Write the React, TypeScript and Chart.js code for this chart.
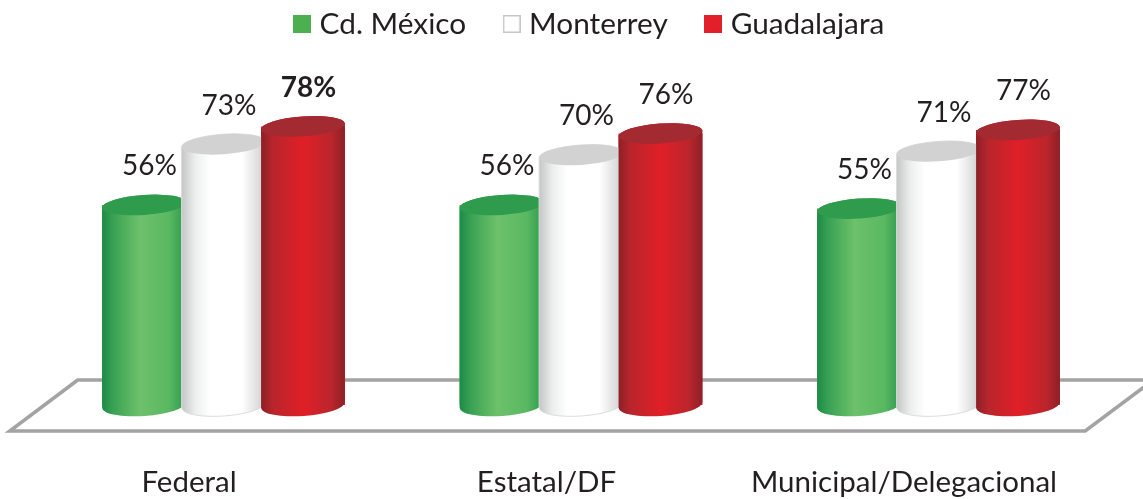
import React, { useEffect, useRef } from "react";
import { Chart, registerables } from "chart.js";

Chart.register(...registerables);

const categories = ["Federal", "Estatal/DF", "Municipal/Delegacional"];
const cdMexico = [56, 56, 55];
const monterrey = [73, 70, 71];
const guadalajara = [78, 76, 77];
const seriesNames = ["Cd. México", "Monterrey", "Guadalajara"];
const boldLabels = [[], [], [0]];

const INK = "#231f20";
const FONT = "Lato";

const swatchFill = ["#4cb04f", "#ffffff", "#e21f2b"];
const swatchEdge = ["#4cb04f", "#c6c6c6", "#e21f2b"];
const capColor = ["#2e9b4d", "#d2d2d2", "#a42a31"];
const outline = [null, "#dcdcdc", null];
const bodyStops: [number, string][][] = [
  [[0, "#1c8a47"], [0.14, "#3aa254"], [0.45, "#6dc16a"], [0.8, "#5ab862"], [1, "#2a9a4d"]],
  [[0, "#c4c5c5"], [0.16, "#eceeee"], [0.34, "#ffffff"], [0.72, "#ffffff"], [0.92, "#dcdcdc"], [1, "#c4c4c4"]],
  [[0, "#8c2027"], [0.14, "#b8252c"], [0.5, "#e01f27"], [0.84, "#bb252c"], [1, "#8c2027"]],
];

const TILT = (-4 * Math.PI) / 180;
const RY = 10;

function makeSwatch(fill: string, edge: string) {
  const c = document.createElement("canvas");
  c.width = 18;
  c.height = 18;
  const g = c.getContext("2d")!;
  g.fillStyle = fill;
  g.fillRect(0, 0, 18, 18);
  g.strokeStyle = edge;
  g.lineWidth = 1.5;
  g.strokeRect(0.75, 0.75, 16.5, 16.5);
  return c;
}

const legendShift = {
  id: "legendShift",
  afterLayout(chart: any) {
    const l = chart.legend;
    l.left += 11;
    l.right += 11;
    l.top -= 34;
    l.bottom -= 34;
  },
};

const floor = {
  id: "floor",
  beforeDatasetsDraw(chart: any) {
    const { ctx, chartArea: a, scales } = chart;
    const base = scales.y.getPixelForValue(0);
    ctx.save();
    ctx.strokeStyle = "#a3a3a3";
    ctx.lineWidth = 3.5;
    ctx.lineJoin = "miter";
    ctx.beginPath();
    ctx.moveTo(a.left + 33, base - 25);
    ctx.lineTo(a.left - 35, base + 26);
    ctx.lineTo(a.right - 32, base + 26);
    ctx.lineTo(a.right + 36, base - 25);
    ctx.closePath();
    ctx.stroke();
    ctx.restore();
  },
};

// Paints each bar as a cylinder, left series first so that each one overlaps the previous.
const cylinders = {
  id: "cylinders",
  afterDatasetsDraw(chart: any) {
    const { ctx } = chart;
    chart.data.datasets.forEach((_: any, i: number) => {
      for (const bar of chart.getDatasetMeta(i).data) {
        const { x, y, base, width } = bar.getProps(["x", "y", "base", "width"], true);
        const rx = width / 2;
        const g = ctx.createLinearGradient(x - rx, 0, x + rx, 0);
        bodyStops[i].forEach(([p, c]) => g.addColorStop(p, c));
        ctx.save();
        ctx.beginPath();
        ctx.ellipse(x, y, rx, RY, TILT, Math.PI, 2 * Math.PI);
        ctx.ellipse(x, base, rx, RY + 1, TILT, 0, Math.PI);
        ctx.closePath();
        ctx.fillStyle = g;
        ctx.fill();
        if (outline[i]) {
          ctx.strokeStyle = outline[i];
          ctx.lineWidth = 1;
          ctx.stroke();
        }
        ctx.beginPath();
        ctx.ellipse(x, y, rx, RY, TILT, 0, 2 * Math.PI);
        ctx.fillStyle = capColor[i];
        ctx.fill();
        ctx.restore();
      }
    });
  },
};

const valueLabels = {
  id: "valueLabels",
  afterDatasetsDraw(chart: any) {
    const { ctx } = chart;
    ctx.save();
    ctx.fillStyle = INK;
    ctx.textAlign = "center";
    ctx.textBaseline = "middle";
    chart.data.datasets.forEach((ds: any, d: number) => {
      chart.getDatasetMeta(d).data.forEach((bar: any, k: number) => {
        const bold = boldLabels[d].includes(k);
        ctx.font = `${bold ? "bold " : ""}28px ${FONT}`;
        ctx.fillText(`${ds.data[k]}%`, bar.x + 5.5, bar.y - 38.5);
      });
    });
    ctx.restore();
  },
};

export default function App() {
  const ref = useRef<HTMLCanvasElement>(null);
  useEffect(() => {
    const series = [cdMexico, monterrey, guadalajara];
    const chart = new Chart(ref.current!, {
      type: "bar",
      data: {
        labels: categories,
        datasets: series.map((data, i) => ({
          label: seriesNames[i],
          data,
          backgroundColor: swatchFill[i],
          borderWidth: 0,
          pointStyle: makeSwatch(swatchFill[i], swatchEdge[i]),
          categoryPercentage: 0.667,
          barPercentage: 1.0566,
        })),
      },
      options: {
        responsive: false,
        animation: false,
        layout: { padding: { left: 44.75, right: 25.75, top: 0, bottom: 0 } },
        plugins: {
          tooltip: { enabled: false },
          legend: {
            position: "top",
            labels: {
              usePointStyle: true,
              pointStyleWidth: 5,
              padding: 43,
              color: INK,
              font: { family: FONT, size: 29.8 },
            },
          },
        },
        scales: {
          x: {
            grid: { display: false },
            border: { display: false },
            afterFit(scale: any) {
              scale.height = 94;
              scale.paddingLeft = 0;
              scale.paddingRight = 0;
            },
            ticks: {
              color: INK,
              labelOffset: -34.5,
              padding: 52,
              autoSkip: false,
              maxRotation: 0,
              font: { family: FONT, size: 29.5 },
            },
          },
          y: { display: false, min: 0, max: 90.2 },
        },
      } as any,
      plugins: [legendShift, floor, cylinders, valueLabels],
    });
    return () => chart.destroy();
  }, []);
  return (
    <canvas
      ref={ref}
      width={1143}
      height={499}
      style={{ position: "absolute", left: 0, top: 0, display: "block" }}
    />
  );
}
